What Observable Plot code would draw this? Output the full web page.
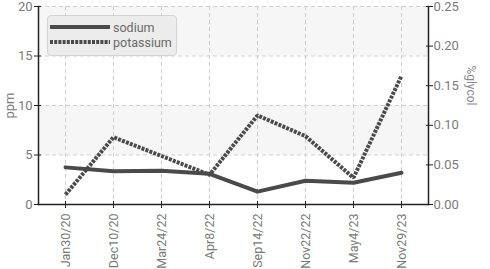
<!DOCTYPE html>
<html>
<head>
<meta charset="utf-8">
<script src="https://cdn.jsdelivr.net/npm/d3@7"></script>
<script src="https://cdn.jsdelivr.net/npm/@observablehq/plot@0.6"></script>
<style>
  html, body { margin: 0; padding: 0; background: #fff; }
  #wrap { position: relative; width: 490px; height: 269px; font-family: "Roboto", sans-serif; }
  #legend { position: absolute; left: 47px; top: 15px; width: 130px; height: 41px; background: #ececec; border: 1px solid #d4d4d4; border-radius: 4px; box-sizing: border-box; }
  .item { position: absolute; left: 2px; height: 14px; display: flex; align-items: center; font-size: 12.5px; color: #6a6a6a; }
  .item svg { margin-right: 3px; }
</style>
</head>
<body>
<div id="wrap"></div>
<script>
const dates = ["Jan30/20", "Dec10/20", "Mar24/22", "Apr8/22", "Sep14/22", "Nov22/22", "May4/23", "Nov29/23"];
const sodium = [3.75, 3.35, 3.4, 3.1, 1.3, 2.4, 2.2, 3.2];
const potassium = [1.0, 6.8, 4.9, 3.0, 9.0, 6.9, 2.7, 13.0];
const ppmTicks = [0, 5, 10, 15, 20];
const glycolTicks = [0, 0.05, 0.10, 0.15, 0.20, 0.25];
const bandLo = [5, 15];
const bandHi = [10, 20];
const seriesNames = ["sodium", "potassium"];

const glycolToPpm = 20 / 0.25;
const bands = bandLo.map((lo, i) => ({lo, hi: bandHi[i]}));
const sodiumRows = dates.map((d, i) => ({date: d, value: sodium[i]}));
const potassiumRows = dates.map((d, i) => ({date: d, value: potassium[i]}));

const tickColor = "#7a7a7a";
const font = "Roboto, sans-serif";
const dotDash = "3,1.2";

const chart = Plot.plot({
  width: 490,
  height: 269,
  marginLeft: 38,
  marginRight: 62,
  marginTop: 6,
  marginBottom: 65,
  style: {fontFamily: font, fontSize: "13px", background: "transparent", overflow: "visible"},
  x: {type: "point", domain: dates, padding: 0.5},
  y: {domain: [0, 20]},
  marks: [
    Plot.rect(bands, {y1: "lo", y2: "hi", fill: "#f6f6f6"}),
    Plot.gridX({stroke: "#cfcfcf", strokeOpacity: 1, strokeDasharray: "4,3"}),
    Plot.gridY(ppmTicks.slice(1), {stroke: "#cfcfcf", strokeOpacity: 1, strokeDasharray: "4,3"}),
    Plot.line(sodiumRows, {x: "date", y: "value", stroke: "#4a4a4a", strokeWidth: 4, strokeLinejoin: "round"}),
    Plot.line(potassiumRows, {x: "date", y: "value", stroke: "#4a4a4a", strokeWidth: 4, strokeDasharray: dotDash, strokeLinecap: "butt", strokeLinejoin: "miter"}),
    Plot.frame({anchor: "left", stroke: "#222", strokeWidth: 1.5}),
    Plot.frame({anchor: "right", stroke: "#222", strokeWidth: 1.5}),
    Plot.frame({anchor: "bottom", stroke: "#222", strokeWidth: 1.5}),
    Plot.axisY(ppmTicks, {anchor: "left", tickSize: 4, tickPadding: 2, stroke: "#222", fill: tickColor, fontSize: 13, label: "ppm", labelAnchor: "center", labelOffset: 34, labelArrow: "none"}),
    Plot.axisY(ppmTicks, {anchor: "left", tickSize: -3, tickFormat: () => "", stroke: "#222", label: null}),
    Plot.axisY(glycolTicks.map(v => v * glycolToPpm), {anchor: "right", tickSize: 4, tickPadding: 1, stroke: "#222", fill: tickColor, fontSize: 13, tickFormat: d => (d / glycolToPpm).toFixed(2), label: null}),
    Plot.axisY(glycolTicks.map(v => v * glycolToPpm), {anchor: "right", tickSize: -3, tickFormat: () => "", stroke: "#222", label: null}),
    Plot.text(["%glycol"], {frameAnchor: "right", rotate: 90, dx: 42, fill: "#888", fontSize: 12}),
    Plot.axisX({anchor: "bottom", tickSize: 4, tickPadding: 5, tickRotate: -90, stroke: "#222", fill: tickColor, fontSize: 12.5, label: null}),
    Plot.axisX({anchor: "bottom", tickSize: -3, tickFormat: () => "", stroke: "#222", label: null})
  ]
});

const wrap = document.getElementById("wrap");
wrap.appendChild(chart);

const legend = document.createElement("div");
legend.id = "legend";
const dashes = [null, dotDash];
seriesNames.forEach((name, i) => {
  const item = document.createElement("div");
  item.className = "item";
  item.style.top = (4 + i * 15) + "px";
  item.innerHTML = `<svg width="60" height="8"><line x1="0" y1="4" x2="60" y2="4" stroke="#4a4a4a" stroke-width="4" ${dashes[i] ? `stroke-dasharray="${dashes[i]}"` : ""}/></svg><span>${name}</span>`;
  legend.appendChild(item);
});
wrap.appendChild(legend);
</script>
</body>
</html>
